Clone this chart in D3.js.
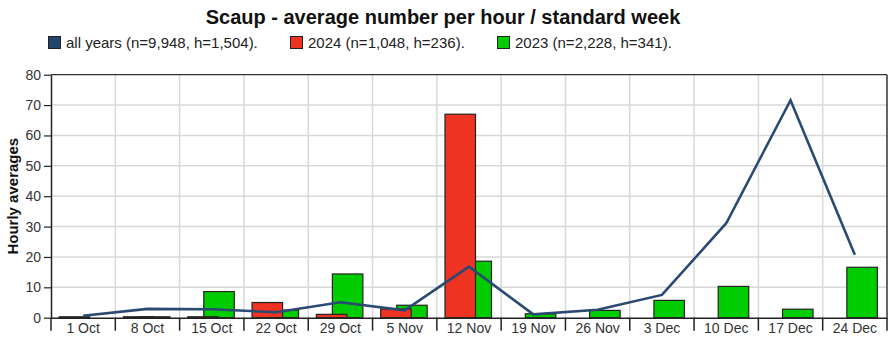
<!DOCTYPE html>
<html><head><meta charset="utf-8">
<script src="https://cdn.jsdelivr.net/npm/d3@7"></script>
<style>body{margin:0;background:#fff;} svg{display:block;font-family:"Liberation Sans",Arial,sans-serif;}</style>
</head><body><svg id="c" width="894" height="356"></svg>
<script>
const weeks = ["1 Oct","8 Oct","15 Oct","22 Oct","29 Oct","5 Nov","12 Nov","19 Nov","26 Nov","3 Dec","10 Dec","17 Dec","24 Dec"];
const allYears = [0.66,2.9,2.8,1.8,5.1,2.4,16.8,1.1,2.6,7.5,31.1,71.6,20.7];
const y2024 = [0.3,0.3,0.3,5.0,1.1,2.9,67.0,null,null,null,null,null,null];
const y2023 = [null,0.3,8.6,2.5,14.4,4.1,18.6,1.3,2.4,5.7,10.3,2.8,16.6];
const yTicks = [0,10,20,30,40,50,60,70,80];
const legendLabels = ["all years (n=9,948, h=1,504).","2024 (n=1,048, h=236).","2023 (n=2,228, h=341)."];
const colors = ["#23446b","#ee3322","#00cc00"];

const svg = d3.select("#c");
const L = 51, R = 887, T = 74.7, B = 317.7;
const x = d3.scaleBand().domain(weeks).range([L, R]).padding(0);
const y = d3.scaleLinear().domain([0, 80]).range([B, T]);
const bw = 30.5;

// title
svg.append("text").attr("x", 443).attr("y", 24).attr("text-anchor", "middle")
  .attr("font-size", 20).attr("font-weight", "bold").attr("fill", "#111")
  .text("Scaup - average number per hour / standard week");

// legend
const legX = [48, 290, 497];
legendLabels.forEach((t, i) => {
  svg.append("rect").attr("x", legX[i] + 0.5).attr("y", 36.5).attr("width", 12).attr("height", 12)
    .attr("fill", colors[i]).attr("stroke", "#222").attr("stroke-width", 1);
  svg.append("text").attr("x", legX[i] + 18).attr("y", 48).attr("font-size", 15).attr("fill", "#222").text(t);
});

// grid
const g = svg.append("g");
g.selectAll("line.h").data(yTicks.slice(1, -1)).join("line")
  .attr("x1", L).attr("x2", R).attr("y1", d => y(d)).attr("y2", d => y(d))
  .attr("stroke", "#d8d8d8").attr("stroke-width", 1.5);
g.selectAll("line.v").data(weeks.slice(1)).join("line")
  .attr("x1", d => x(d)).attr("x2", d => x(d)).attr("y1", T).attr("y2", B)
  .attr("stroke", "#d8d8d8").attr("stroke-width", 1.5);

// frame
svg.append("line").attr("x1", L).attr("x2", R).attr("y1", T).attr("y2", T).attr("stroke", "#333").attr("stroke-width", 1.2);
svg.append("line").attr("x1", R).attr("x2", R).attr("y1", T).attr("y2", B).attr("stroke", "#333").attr("stroke-width", 1.5);

// bars: 2023 (green) under 2024 (red)
const c = d => x(d) + x.bandwidth() / 2;
svg.append("g").selectAll("rect").data(weeks.map((w, i) => ({w, v: y2023[i]})).filter(d => d.v != null)).join("rect")
  .attr("x", d => c(d.w) - 8).attr("width", bw)
  .attr("y", d => y(d.v)).attr("height", d => B - y(d.v))
  .attr("fill", colors[2]).attr("stroke", "#222").attr("stroke-width", 1.2);
svg.append("g").selectAll("rect").data(weeks.map((w, i) => ({w, v: y2024[i]})).filter(d => d.v != null)).join("rect")
  .attr("x", d => c(d.w) - 24).attr("width", bw)
  .attr("y", d => y(d.v)).attr("height", d => B - y(d.v))
  .attr("fill", colors[1]).attr("stroke", "#222").attr("stroke-width", 1.2);

// line
svg.append("path").datum(weeks.map((w, i) => [c(w), y(allYears[i])]))
  .attr("d", d3.line()).attr("fill", "none").attr("stroke", "#2a4a72").attr("stroke-width", 2.6)
  .attr("stroke-linejoin", "miter");

// y axis
const ya = svg.append("g").attr("transform", `translate(${L},0)`)
  .call(d3.axisLeft(y).tickValues(yTicks).tickSize(7).tickSizeOuter(0));
ya.select(".domain").attr("stroke", "#222").attr("stroke-width", 1.5);
ya.selectAll(".tick line").attr("stroke", "#222").attr("stroke-width", 1.2);
ya.selectAll("text").attr("font-size", 14).attr("fill", "#333").attr("font-family", "Liberation Sans, Arial, sans-serif");

// x axis
const xa = svg.append("g").attr("transform", `translate(0,${B})`)
  .call(d3.axisBottom(x).tickSize(0).tickSizeOuter(0).tickPadding(5));
xa.select(".domain").attr("stroke", "#222").attr("stroke-width", 1.5);
xa.selectAll("text").attr("font-size", 14).attr("fill", "#333").attr("font-family", "Liberation Sans, Arial, sans-serif");
const bounds = weeks.map(w => x(w)).concat([R]);
svg.append("g").selectAll("line").data(bounds).join("line")
  .attr("x1", d => d).attr("x2", d => d).attr("y1", B).attr("y2", B + 13)
  .attr("stroke", "#222").attr("stroke-width", 1.5);

// y label
svg.append("text").attr("transform", `translate(18,${(T + B) / 2}) rotate(-90)`)
  .attr("text-anchor", "middle").attr("font-size", 15).attr("font-weight", "bold").attr("fill", "#111")
  .text("Hourly averages");
</script></body></html>
